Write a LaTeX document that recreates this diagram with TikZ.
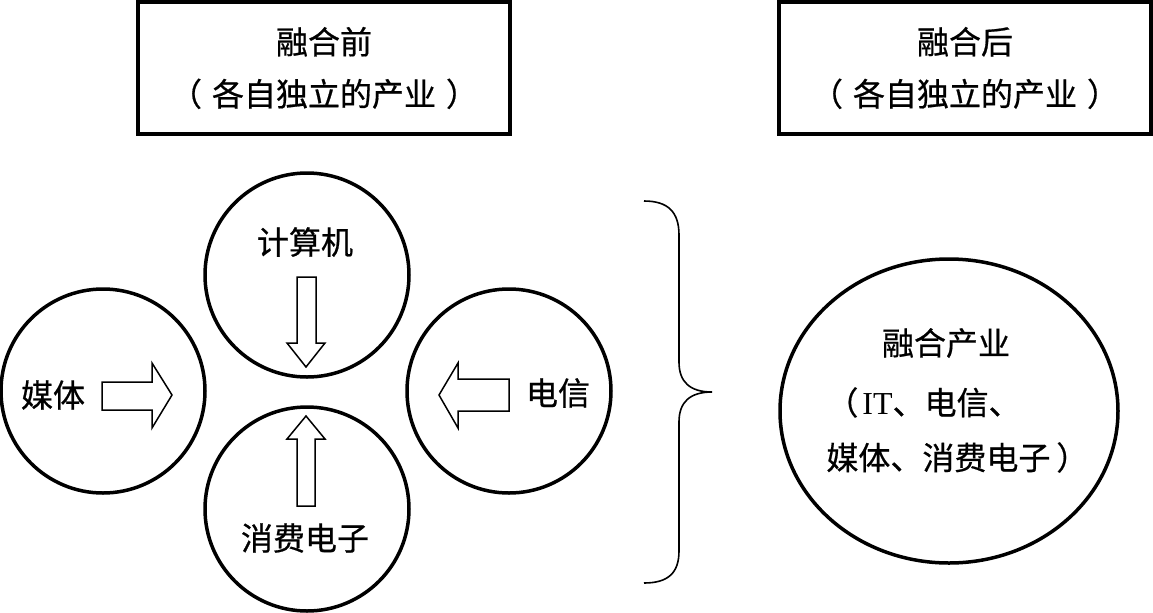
\documentclass[tikz,border=0pt]{standalone}
\usepackage{fontspec}
\setmainfont{Liberation Serif}
\newfontfamily\cjk[FakeBold=0.6]{Noto Sans CJK SC}
\usetikzlibrary{shapes.geometric}

\tikzset{
  lbl/.style={inner sep=0pt,font=\cjk\fontsize{16}{27.5}\selectfont},
  titlebox/.style={draw,line width=2pt,minimum width=186pt,minimum height=66pt,
    align=center,inner sep=0pt,font=\cjk\fontsize{16}{26}\selectfont},
  ring/.style={draw,circle,line width=1.75pt,minimum size=102pt,inner sep=0pt},
  blk/.style={draw,line width=0.75pt,line join=miter},
}

\begin{document}
\begin{tikzpicture}[x=0.5pt,y=-0.5pt]
  \useasboundingbox (0,0) rectangle (1153,612);
  % 标题框
  \node[titlebox] (qian) at (324,68) {融合前\\（\hspace{5pt}各自独立的产业\hspace{5pt}）};
  \node[titlebox] (hou) at (965,68) {融合后\\（\hspace{5pt}各自独立的产业\hspace{5pt}）};
  % 四个产业
  \node[ring] (jsj) at (307,275) {};
  \node[ring] (mt) at (103,391) {};
  \node[ring] (dx) at (509,391) {};
  \node[ring] (xf) at (307,509) {};
  \node[lbl] (jsj-t) at (305,242) {计算机};
  \node[lbl] (mt-t) at (53,395) {媒体};
  \node[lbl] (dx-t) at (558,393) {电信};
  \node[lbl] (xf-t) at (305,538) {消费电子};
  % 空心箭头
  \draw[blk] (297,277) -- (316,277) -- (316,343) -- (325,343) -- (306,367) -- (287,343) -- (297,343) -- cycle;
  \draw[blk] (297,506) -- (315,506) -- (315,439) -- (325,439) -- (306,416) -- (287,439) -- (297,439) -- cycle;
  \draw[blk] (102,382) -- (152,382) -- (152,363) -- (172,395) -- (152,428) -- (152,410) -- (102,410) -- cycle;
  \draw[blk] (509,379) -- (458,379) -- (458,363) -- (439,395) -- (458,428) -- (458,411) -- (509,411) -- cycle;
  % 大括号
  \draw[line width=0.8pt] (644,201) .. controls (668,201) and (679,212) .. (679,235)
    -- (679,362) .. controls (679,382) and (690,392) .. (712,392)
    .. controls (690,392) and (679,402) .. (679,422)
    -- (679,551) .. controls (679,573) and (668,583) .. (644,583);
  % 融合产业
  \node[draw,ellipse,line width=1.75pt,minimum width=169pt,minimum height=152pt,inner sep=0pt] (rh) at (949,411) {};
  \node[lbl] (rh-t) at (946,343) {融合产业};
  \node[lbl,align=left,anchor=west] (rh-list) at (826,430) {（\hspace{2pt}\textrm{IT}、电信、\\媒体、消费电子\hspace{3pt}）};
\end{tikzpicture}
\end{document}
